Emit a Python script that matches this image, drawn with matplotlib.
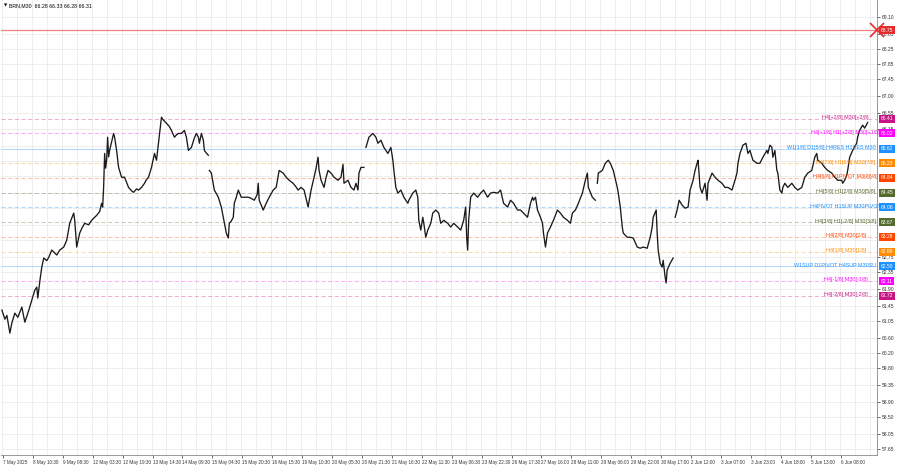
import numpy as np
import matplotlib.pyplot as plt
import matplotlib.transforms as mtransforms

plt.rcParams['font.family'] = ['Liberation Sans Narrow', 'Liberation Sans', 'DejaVu Sans']

title_text = 'BRN,M30  66.28 66.33 66.28 66.31'

# price trace (bar number, price); None marks a gap in the chart
bars = [0, 3, 5, 8, 10, 13, 16, 20, 23, 27, 30, 33, 35, 36, 38, 40, 42, 45, 47, 50,
        53, 55, 58, 62, 65, 68, 72, 73, 75, 78, 80, 83, 87, 90, 95, 98, 100, 101, 102, 103,
        104, 105, 106, 107, 108, 110, 112, 113, 115, 117, 120, 123, 127, 130, 132, 135, 137, 140, 143, 145,
        147, 150, 153, 155, 157, 160, 162, 165, 168, 170, 173, 175, 177, 180, 183, 185, 187, 190, 193, 195,
        197, 198, 200, 202, 203, 205, 207, None,
        208, 210, 213, 217, 220, 222, 225, 227, 228, 230, 232, 233, 235, 237, 240, 243, 247, 250, 253, 256,
        257, 258, 262, 265, 268, 272, 275, 278, 282, 285, 288, 292, 295, 297, 300, 303, 305, 307, 310, 313,
        315, 317, 318, 320, 323, 325, 327, 330, 333, 337, 340, 342, 343, 347, 350, 353, 355, 357, 358, 360,
        363, None,
        365, 368, 372, 375, 377, 380, 383, 387, 390, 392, 393, 395, 397, 400, 403, 407, 408, 412, 415, 417,
        418, 420, 422, 423, 425, 427, 430, 432, 435, 438, 440, 443, 447, 450, 453, 457, 460, 463, 465, 466,
        467, 468, 470, 473, 477, 480, 483, 487, 490, 493, 497, 500, 503, 507, 510, 513, 517, 520, 523, 527,
        530, 532, 533, 535, 537, 540, 542, 543, 545, 547, 550, 553, 557, 560, 563, 567, 570, 572, 575, 578,
        582, 585, 587, 588, 592, 595, None,
        597, 598, 602, 605, 608, 610, 613, 617, 618, 620, 622, 623, 627, 630, 633, 637, 640, 643, 647, 650,
        652, 653, 656, 657, 658, 660, 662, 663, 665, 666, 667, 670, 673, None,
        675, 677, 679, 682, 685, 688, 690, 693, 695, 697, 698, 700, 702, 705, 707, 708, 712, 715, 718, 722,
        725, 728, 732, 735, 737, 738, 740, 743, 746, 748, 750, 753, 757, 760, 763, 767, 768, 770, 772, 773,
        775, 777, 778, 780, 782, 783, 785, 788, 792, 795, 798, 802, 805, 808, 812, 815, 817, 818, 822, 825,
        828, 832, 835, 838, 842, 843, 845, 847, 848, 850, 853, 857, 858, 860, 863, 865, 868]
prices = [61.34, 61.10, 61.20, 60.73, 61.00, 61.26, 61.15, 61.42, 61.02, 61.34, 61.60, 61.87, 61.95, 61.66, 62.10, 62.48, 62.72, 62.65, 62.74, 62.93,
          62.85, 62.80, 62.93, 63.01, 63.19, 63.64, 63.91, 63.72, 63.01, 63.38, 63.50, 63.64, 63.60, 63.72, 63.85, 63.95, 64.17, 64.07, 64.59, 65.49,
          65.10, 65.31, 65.92, 65.40, 65.57, 65.80, 66.02, 65.92, 65.57, 65.12, 64.86, 64.86, 64.59, 64.50, 64.46, 64.55, 64.52, 64.59, 64.70, 64.80,
          64.86, 65.12, 65.49, 65.31, 65.76, 66.45, 66.37, 66.29, 66.20, 66.10, 65.92, 65.98, 66.02, 66.02, 66.10, 65.92, 65.57, 65.65, 65.90, 66.02,
          65.92, 65.76, 66.02, 65.84, 65.57, 65.50, 65.44, None,
          65.04, 64.97, 64.52, 64.33, 64.07, 63.80, 63.38, 63.25, 63.64, 63.70, 63.80, 64.17, 64.33, 64.52, 64.33, 64.33, 64.33, 64.30, 64.25, 64.40,
          64.70, 64.25, 63.99, 64.17, 64.33, 64.52, 64.59, 65.04, 64.97, 64.86, 64.78, 64.70, 64.60, 64.52, 64.59, 64.52, 64.30, 64.07, 64.52, 64.86,
          65.10, 65.39, 65.04, 64.78, 64.59, 64.85, 65.04, 64.97, 64.86, 64.78, 64.86, 65.20, 64.70, 64.78, 64.59, 64.52, 64.70, 64.52, 64.97, 65.12,
          65.12, None,
          65.65, 65.92, 66.02, 65.92, 65.76, 65.84, 65.65, 65.49, 65.65, 65.31, 65.04, 64.59, 64.44, 64.52, 64.33, 64.17, 64.25, 64.44, 64.52, 64.33,
          63.72, 63.46, 63.80, 63.64, 63.27, 63.46, 63.64, 63.91, 63.99, 63.91, 63.64, 63.72, 63.64, 63.54, 63.64, 63.54, 63.46, 63.72, 64.07, 63.27,
          62.93, 63.72, 64.33, 64.44, 64.33, 64.44, 64.52, 64.33, 64.44, 64.46, 64.44, 64.52, 64.17, 64.07, 64.25, 64.17, 63.99, 63.99, 63.91, 63.80,
          64.17, 64.33, 64.25, 64.33, 63.99, 63.80, 63.64, 63.38, 63.01, 63.38, 63.54, 63.72, 63.99, 63.91, 63.80, 63.72, 63.64, 63.91, 63.99, 64.17,
          64.44, 64.78, 64.97, 64.59, 64.33, 64.25, None,
          64.70, 64.97, 65.04, 65.23, 65.31, 65.23, 65.04, 64.59, 64.44, 64.07, 63.54, 63.38, 63.27, 63.27, 63.25, 63.01, 62.98, 63.01, 62.98, 63.27,
          63.54, 63.80, 63.99, 63.38, 62.93, 62.58, 62.48, 62.66, 62.21, 62.06, 62.40, 62.58, 62.72, None,
          63.80, 63.99, 64.25, 64.12, 64.04, 64.07, 64.52, 64.78, 65.04, 65.23, 65.31, 64.59, 64.44, 64.70, 64.25, 64.70, 64.97, 64.86, 64.78, 64.70,
          64.59, 64.59, 64.52, 64.78, 64.97, 65.23, 65.49, 65.71, 65.76, 65.49, 65.57, 65.31, 65.23, 65.23, 65.39, 65.57, 65.49, 65.71, 65.65, 65.39,
          65.57, 65.04, 64.97, 64.52, 64.44, 64.59, 64.70, 64.59, 64.70, 64.59, 64.52, 64.59, 64.86, 64.97, 65.04, 65.39, 65.49, 65.31, 65.23, 65.12,
          65.04, 64.97, 64.86, 64.78, 64.78, 64.70, 64.78, 64.91, 65.04, 65.39, 65.57, 65.76, 65.92, 66.10, 66.24, 66.16, 66.31]

time_labels = ['7 May 2025', '8 May 10:30', '9 May 08:30', '12 May 03:30', '12 May 19:30', '13 May 14:30',
               '14 May 09:30', '15 May 04:30', '15 May 20:30', '16 May 15:30', '19 May 10:30', '20 May 05:30',
               '20 May 21:30', '21 May 16:30', '22 May 11:30', '23 May 06:30', '23 May 22:30', '26 May 17:30',
               '27 May 16:00', '28 May 11:00', '29 May 06:00', '29 May 22:00', '30 May 17:00', '2 Jun 12:00',
               '3 Jun 07:00', '3 Jun 23:00', '4 Jun 18:00', '5 Jun 13:00', '6 Jun 08:00']
price_ticks = [69.10, 68.65, 68.25, 67.85, 67.45, 67.00, 66.55, 66.15, 65.70, 65.30, 64.90, 64.45, 64.05, 63.60,
               63.20, 62.75, 62.35, 61.90, 61.45, 61.05, 60.60, 60.20, 59.80, 59.35, 58.90, 58.50, 58.05, 57.65]

# murrey / pivot levels (the two long names run into the price scale, as in the terminal)
level_values = [66.41, 66.02, 65.62, 65.23, 64.84, 64.45, 64.06, 63.67, 63.28, 62.89, 62.50, 62.11, 61.72]
level_names = ['H4[+2/8] M30[+2/8]', 'H4[+1/8] H1[+2/8] M30[+1/8]', 'W1[1/8] D1[5/8] H4RES H1RES M30',
               'H4[7/8] H1[6/8] M30[7/8]', 'H4[6/8] H1PIVOT M30[6/8]', 'H4[5/8] H1[2/8] M30[5/8]',
               'H4PIVOT H1SUP M30PIVOT', 'H4[3/8] H1[-2/8] M30[3/8]', 'H4[2/8] M30[2/8]', 'H4[1/8] M30[1/8]',
               'W1SUP D1PIVOT H4SUP M30SU', 'H4[-1/8] M30[-1/8]', 'H4[-2/8] M30[-2/8]']
level_colors = ['#c71585', '#ff00ff', '#1e90ff', '#ff8c00', '#ff4500', '#556b2f', '#1e90ff',
                '#556b2f', '#ff4500', '#ff8c00', '#1e90ff', '#ff00ff', '#c71585']
level_solid = [False, False, True, False, False, False, False, False, False, False, True, False, False]
stop_level = 68.75

x = np.array([np.nan if b is None else b for b in bars], dtype=float)
y = np.array([np.nan if p is None else p for p in prices], dtype=float)

fig = plt.figure(figsize=(9, 4.68), dpi=100)
ax = fig.add_axes([0.001, 0.028, 0.973, 0.971])
ax.set_xlim(-1, 877)
ax.set_ylim(57.505, 69.542)

# grid
for gx in np.arange(0, 877, 15):
    ax.axvline(gx, color='#ebebeb', lw=0.6, zorder=0)
for t in price_ticks:
    ax.axhline(t, color='#ebebeb', lw=0.6, zorder=0)

# levels
ax.axhline(stop_level, color='#f08080', lw=0.9, zorder=1)
for v, name, c, solid in zip(level_values, level_names, level_colors, level_solid):
    ls = '-' if solid else (0, (5, 3))
    ax.axhline(v, color=c, lw=0.6, alpha=0.4, ls=ls, zorder=1)
    if solid:
        # long labels are cut by the chart edge
        ax.annotate(name, (876, v), xytext=(0, 0.8), textcoords='offset points',
                    ha='right', va='center', fontsize=3.9, color=c, zorder=3)
    else:
        ax.annotate(name, (846, v), xytext=(0, 0.8), textcoords='offset points',
                    ha='center', va='center', fontsize=3.9, color=c, zorder=3)

ax.plot(x, y, color='#1a1a1a', lw=0.95, zorder=2)

# price axis on the right; labels under the level boxes are hidden
trans = mtransforms.blended_transform_factory(ax.transAxes, ax.transData)
ax.yaxis.tick_right()
shown = [t for t in price_ticks
         if min(abs(t - v) for v in level_values + [stop_level]) > 0.09]
ax.set_yticks(shown)
ax.set_yticklabels([f'{t:.2f}' for t in shown])
ax.tick_params(axis='y', labelsize=3.6, length=2, width=0.5, pad=2, colors='#333333')
for v, c in zip(level_values, level_colors):
    ax.text(1.005, v, f'{v:.2f}', transform=trans, ha='left', va='center', fontsize=3.6,
            color='white', clip_on=False, zorder=5,
            bbox=dict(boxstyle='square,pad=0.3', fc=c, ec='none'))
ax.text(1.005, stop_level, f'{stop_level:.2f}', transform=trans, ha='left', va='center',
        fontsize=3.6, color='white', clip_on=False, zorder=5,
        bbox=dict(boxstyle='square,pad=0.3', fc='#e52b2b', ec='none'))
ax.plot([1.0], [stop_level], transform=trans, marker='x', ms=10, mew=1.2,
        color='#e52b2b', clip_on=False, zorder=6)

# time axis
ax.set_xticks(np.arange(len(time_labels)) * 30 + 1)
ax.set_xticklabels(time_labels, ha='left')
ax.tick_params(axis='x', labelsize=3.3, length=2, width=0.5, pad=1.5, colors='#333333')

for s in ax.spines.values():
    s.set_color('#888888')
    s.set_linewidth(0.6)
ax.spines['top'].set_visible(False)
ax.spines['left'].set_visible(False)

ax.text(0.003, 0.993, '\u25bc', transform=ax.transAxes, fontsize=3, va='top', ha='left',
        family=['DejaVu Sans'])
ax.text(0.009, 0.993, title_text, transform=ax.transAxes, fontsize=3.8, va='top', ha='left')

fig.savefig('out.png', dpi=100)
